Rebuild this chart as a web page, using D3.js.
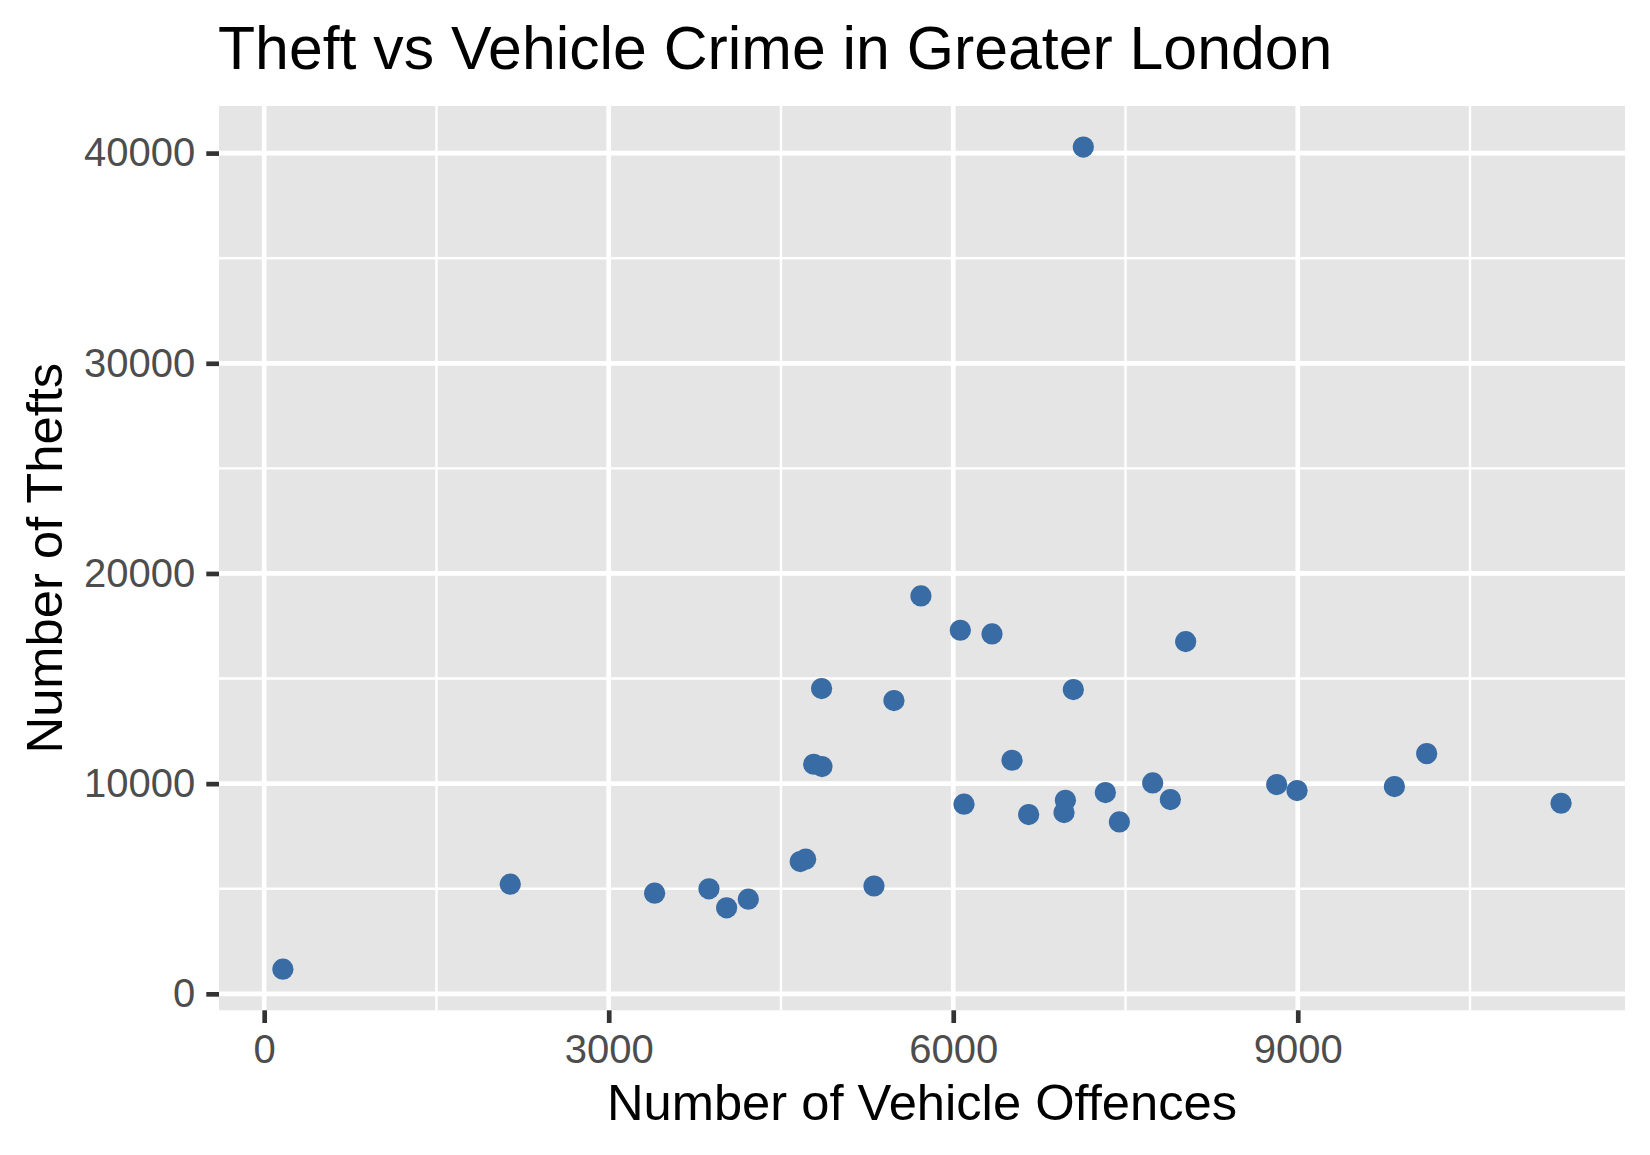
<!DOCTYPE html>
<html>
<head>
<meta charset="utf-8">
<script src="https://cdn.jsdelivr.net/npm/d3@7"></script>
<style>
  html, body { margin: 0; padding: 0; background: #fff; }
  svg { display: block; }
  text { font-family: "Liberation Sans", Arial, sans-serif; }
</style>
</head>
<body>
<svg id="chart"></svg>
<script>
// values
const vehicleOffences = [163, 2143, 3400, 3873, 4027, 4216, 4668, 4715, 5310, 4854, 4857, 4785, 5484, 5719, 6062, 6338, 6094, 6512, 6657, 6965, 6977, 7046, 7133, 7325, 7447, 7737, 7891, 8024, 8817, 8994, 9842, 10123, 11293];
const thefts = [1172, 5215, 4788, 4994, 4090, 4503, 6293, 6405, 5130, 14523, 10813, 10923, 13953, 18930, 17298, 17122, 9021, 11113, 8529, 8624, 9211, 14474, 40285, 9576, 8180, 10036, 9243, 16757, 9955, 9671, 9861, 11431, 9068];
const xMajor = [0, 3000, 6000, 9000];
const xMinor = [1500, 4500, 7500, 10500];
const yMajor = [0, 10000, 20000, 30000, 40000];
const yMinor = [5000, 15000, 25000, 35000];

const width = 1650;
const height = 1155;
const panel = {left: 219, right: 1625, top: 106, bottom: 1010.3};

const svg = d3.select("#chart")
  .attr("width", width)
  .attr("height", height)
  .attr("viewBox", [0, 0, width, height]);

// ggplot style 5% expansion either side
function expand(values) {
  const [lo, hi] = d3.extent(values);
  const pad = (hi - lo) * 0.05;
  return [lo - pad, hi + pad];
}

const x = d3.scaleLinear().domain(expand(vehicleOffences)).range([panel.left, panel.right]);
const y = d3.scaleLinear().domain(expand(thefts)).range([panel.bottom, panel.top]);

svg.append("rect")
  .attr("x", panel.left)
  .attr("y", panel.top)
  .attr("width", panel.right - panel.left)
  .attr("height", panel.bottom - panel.top)
  .attr("fill", "#e5e5e5");

// Grid, minor first
function vGrid(values, w) {
  svg.append("g").attr("stroke", "#fff").attr("stroke-width", w)
    .selectAll("line").data(values).join("line")
    .attr("x1", d => x(d)).attr("x2", d => x(d))
    .attr("y1", panel.top).attr("y2", panel.bottom);
}
function hGrid(values, w) {
  svg.append("g").attr("stroke", "#fff").attr("stroke-width", w)
    .selectAll("line").data(values).join("line")
    .attr("y1", d => y(d)).attr("y2", d => y(d))
    .attr("x1", panel.left).attr("x2", panel.right);
}
hGrid(yMinor, 2.4);
vGrid(xMinor, 2.4);
hGrid(yMajor, 4.7);
vGrid(xMajor, 4.7);

// Points
svg.append("g")
  .selectAll("circle")
  .data(vehicleOffences.map((v, i) => ({v: v, t: thefts[i]})))
  .join("circle")
  .attr("cx", d => x(d.v))
  .attr("cy", d => y(d.t))
  .attr("r", 10.6)
  .attr("fill", "#396ca5");

// Axes
const xAxis = svg.append("g")
  .attr("transform", `translate(0,${panel.bottom})`)
  .call(d3.axisBottom(x).tickValues(xMajor).tickFormat(d3.format("d")).tickSize(12.7).tickPadding(12));
const yAxis = svg.append("g")
  .attr("transform", `translate(${panel.left},0)`)
  .call(d3.axisLeft(y).tickValues(yMajor).tickFormat(d3.format("d")).tickSize(12.7).tickPadding(11));

[xAxis, yAxis].forEach(a => {
  a.select(".domain").remove();
  a.selectAll("line").attr("stroke", "#333").attr("stroke-width", 4.7);
  a.selectAll("text").attr("fill", "#4d4d4d").style("font-size", "40px").style("font-family", '"Liberation Sans"');
});

// Titles
svg.append("text")
  .attr("x", panel.left - 1)
  .attr("y", 69)
  .attr("font-size", 60.75)
  .attr("fill", "#000")
  .text("Theft vs Vehicle Crime in Greater London");

svg.append("text")
  .attr("x", (panel.left + panel.right) / 2)
  .attr("y", 1120)
  .attr("text-anchor", "middle")
  .attr("font-size", 50.7)
  .attr("fill", "#000")
  .text("Number of Vehicle Offences");

svg.append("text")
  .attr("transform", `translate(61.5,${(panel.top + panel.bottom) / 2}) rotate(-90)`)
  .attr("text-anchor", "middle")
  .attr("font-size", 50.7)
  .attr("fill", "#000")
  .text("Number of Thefts");
</script>
</body>
</html>
